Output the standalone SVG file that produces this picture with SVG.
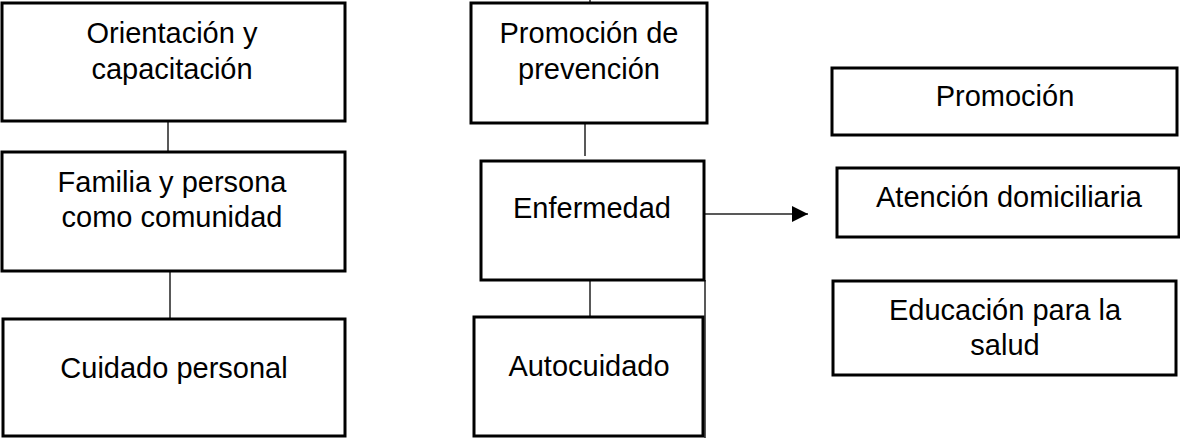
<svg xmlns="http://www.w3.org/2000/svg" width="1180" height="438" viewBox="0 0 1180 438">
<style>
.box{fill:#fff;stroke:#000;stroke-width:3}
.t{font-family:"Liberation Sans",Arial,sans-serif;font-size:29px;fill:#000;text-anchor:middle}
.c{stroke:#222;stroke-width:1.5;fill:none}
</style>
<defs>
<marker id="ah" markerWidth="16" markerHeight="16" refX="16" refY="8" orient="auto" markerUnits="userSpaceOnUse">
<path d="M0,0 L16,8 L0,16 Z" fill="#000"/>
</marker>
</defs>
<g id="connectors">
<line class="c" x1="168" y1="121" x2="168" y2="152"/>
<line class="c" x1="170" y1="271" x2="170" y2="319"/>
<line class="c" x1="590" y1="0" x2="590" y2="3"/>
<line class="c" x1="585" y1="123" x2="585" y2="156"/>
<line class="c" x1="590" y1="275" x2="590" y2="318"/>
<line class="c" x1="705" y1="280" x2="705" y2="438"/>
<line class="c" x1="704" y1="214" x2="808" y2="214" marker-end="url(#ah)"/>
</g>
<g id="n1"><rect class="box" x="2" y="3" width="343" height="118"/>
<text class="t" x="172" y="43">Orientación y</text><text class="t" x="172" y="79">capacitación</text></g>
<g id="n2"><rect class="box" x="2" y="152" width="343" height="119"/>
<text class="t" x="172" y="192">Familia y persona</text><text class="t" x="172" y="227">como comunidad</text></g>
<g id="n3"><rect class="box" x="3" y="319" width="342" height="117"/>
<text class="t" x="174" y="378">Cuidado personal</text></g>
<g id="n4"><rect class="box" x="471" y="3" width="236" height="120"/>
<text class="t" x="589" y="43">Promoción de</text><text class="t" x="589" y="79">prevención</text></g>
<g id="n5"><rect class="box" x="481" y="161" width="223" height="119"/>
<text class="t" x="592" y="218">Enfermedad</text></g>
<g id="n6"><rect class="box" x="474" y="317" width="229" height="119"/>
<text class="t" x="589" y="376">Autocuidado</text></g>
<g id="n7"><rect class="box" x="832" y="68" width="345" height="67"/>
<text class="t" x="1005" y="106">Promoción</text></g>
<g id="n8"><rect class="box" x="837" y="168" width="342" height="69"/>
<text class="t" x="1009" y="207">Atención domiciliaria</text></g>
<g id="n9"><rect class="box" x="833" y="281" width="343" height="94"/>
<text class="t" x="1005" y="320">Educación para la</text><text class="t" x="1005" y="355">salud</text></g>
</svg>
